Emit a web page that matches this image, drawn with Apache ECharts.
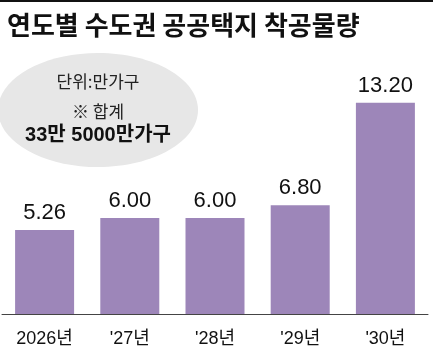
<!DOCTYPE html>
<html>
<head>
<meta charset="utf-8">
<script src="https://cdn.jsdelivr.net/npm/echarts@6/dist/echarts.min.js"></script>
<style>
  html, body { margin: 0; padding: 0; background: #fff; }
  #chart { width: 433px; height: 354px; }
</style>
</head>
<body>
<div id="chart"></div>
<script>
// 연도별 수도권 공공택지 착공물량 (단위: 만가구)
const years = ['2026년', "'27년", "'28년", "'29년", "'30년"];
const starts = [5.26, 6.00, 6.00, 6.80, 13.20];
const noteLines = ['단위:만가구', '※ 합계', '33만 5000만가구'];

const narrow = "'Liberation Sans Narrow', 'Liberation Sans', 'Noto Sans CJK KR', sans-serif";
const barColor = '#9d86b9';

const chart = echarts.init(document.getElementById('chart'));

chart.setOption({
  backgroundColor: '#fff',
  animation: false,
  title: {
    text: '연도별 수도권 공공택지 착공물량',
    left: 2,
    top: 7,
    textStyle: {
      fontFamily: "'Noto Sans CJK KR', sans-serif",
      fontWeight: 'bold',
      fontSize: 26,
      color: '#111'
    }
  },
  graphic: [
    // top rule
    { type: 'rect', left: 0, top: 0, shape: { width: 433, height: 2 }, style: { fill: '#111' } },
    // note bubble
    { type: 'ellipse', shape: { cx: 98, cy: 110, rx: 100, ry: 57 }, style: { fill: '#e7e7e7' } },
    { type: 'text', x: 98, y: 82, style: { text: noteLines[0], align: 'center', verticalAlign: 'middle',
        font: "17px 'Noto Sans CJK KR', sans-serif", fill: '#222' } },
    { type: 'text', x: 98, y: 112, style: { text: noteLines[1], align: 'center', verticalAlign: 'middle',
        font: "17px 'Noto Sans CJK KR', sans-serif", fill: '#222' } },
    { type: 'text', x: 98, y: 135, style: { text: noteLines[2], align: 'center', verticalAlign: 'middle',
        font: "bold 20px " + narrow, fill: '#111' } }
  ],
  grid: { left: 2, right: 5, top: 90, bottom: 33 },
  xAxis: {
    type: 'category',
    data: years,
    axisTick: { show: false },
    axisLine: { lineStyle: { color: '#444', width: 1 } },
    axisLabel: {
      color: '#111',
      fontSize: 18,
      fontFamily: narrow,
      margin: 9
    }
  },
  yAxis: {
    type: 'value',
    min: -0.43,
    max: 14,
    show: false,
    splitLine: { show: false }
  },
  series: [{
    type: 'bar',
    data: starts,
    barWidth: 59,
    itemStyle: { color: barColor },
    label: {
      show: true,
      position: 'top',
      distance: 6,
      formatter: p => p.value.toFixed(2),
      color: '#111',
      fontSize: 22,
      fontFamily: narrow
    }
  }]
});
</script>
</body>
</html>
